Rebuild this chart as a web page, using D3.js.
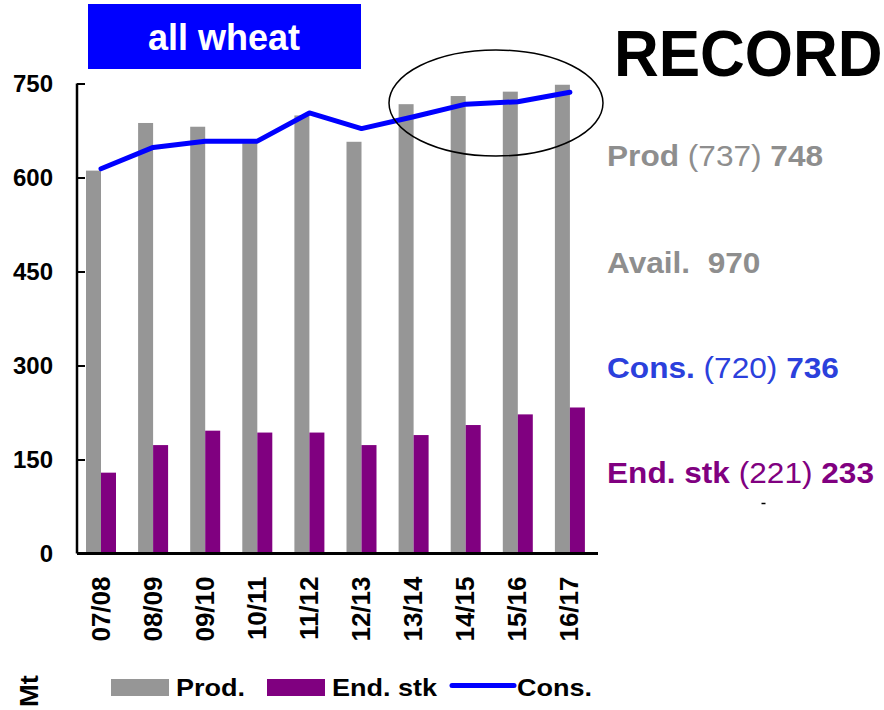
<!DOCTYPE html>
<html><head><meta charset="utf-8">
<script src="https://cdn.jsdelivr.net/npm/d3@7"></script>
<style>
html,body{margin:0;padding:0;background:#fff;}
text{font-family:"Liberation Sans",Arial,sans-serif;}
</style></head>
<body>
<svg id="chart" width="884" height="710"></svg>
<script>
const categories = ["07/08","08/09","09/10","10/11","11/12","12/13","13/14","14/15","15/16","16/17"];
const prodValues = [611, 687, 681, 655, 699, 657, 717, 730, 737, 748];
const endStockValues = [129, 173, 196, 193, 193, 173, 189, 205, 222, 233];
const consValues = [614, 648, 658, 658, 703, 678, 697, 717, 721, 736];
const yTicks = [0, 150, 300, 450, 600, 750];
const legendItems = [
  {label: "Prod.", type: "bar", color: "#969696"},
  {label: "End. stk", type: "bar", color: "#800080"},
  {label: "Cons.", type: "line", color: "#0000ff"}
];
const sideNotes = [
  {parts: [["Prod", 700], [" (737) ", 400], ["748", 700]], color: "#8e8e8e"},
  {parts: [["Avail.  970", 700]], color: "#8e8e8e"},
  {parts: [["Cons.", 700], [" (720) ", 400], ["736", 700]], color: "#2b40dc"},
  {parts: [["End. stk", 700], [" (221) ", 400], ["233", 700]], color: "#800080"}
];

const svg = d3.select("#chart");
const y = d3.scaleLinear().domain([0, 750]).range([553.5, 83.5]);
const x = d3.scaleBand().domain(categories).range([77, 598]).padding(0);
const xSub = d3.scaleBand().domain(["prod", "stk"]).range([9, 39]).padding(0);
const xLine = (d) => x(d) + xSub("stk");

// bars
svg.append("g").selectAll("rect").data(categories).join("rect")
  .attr("x", (d) => x(d) + xSub("prod"))
  .attr("y", (d, i) => y(prodValues[i]))
  .attr("width", xSub.bandwidth())
  .attr("height", (d, i) => y(0) - y(prodValues[i]))
  .attr("fill", "#969696");
svg.append("g").selectAll("rect").data(categories).join("rect")
  .attr("x", (d) => x(d) + xSub("stk"))
  .attr("y", (d, i) => y(endStockValues[i]))
  .attr("width", xSub.bandwidth())
  .attr("height", (d, i) => y(0) - y(endStockValues[i]))
  .attr("fill", "#800080");

// line
const line = d3.line().x((d, i) => xLine(categories[i])).y((d) => y(d));
svg.append("path").datum(consValues).attr("d", line)
  .attr("fill", "none").attr("stroke", "#0000ff").attr("stroke-width", 5)
  .attr("stroke-linejoin", "round").attr("stroke-linecap", "round");

// y axis
const yAxis = d3.axisLeft(y).tickValues(yTicks).tickSize(-8).tickPadding(24);
const gy = svg.append("g").attr("transform", "translate(77,0)").call(yAxis);
gy.select(".domain").attr("stroke", "#000").attr("stroke-width", 2.5).attr("d", `M0,${y(0)}V${y(750)}`);
gy.selectAll(".tick line").attr("stroke", "#000").attr("stroke-width", 2);
gy.selectAll(".tick text").attr("fill", "#000").attr("font-size", 24).attr("font-weight", 700)
  .attr("font-family", "'Liberation Sans',Arial,sans-serif").attr("x", -24).attr("dy", "0.35em");

// x axis baseline
svg.append("line").attr("x1", 77).attr("x2", 598).attr("y1", y(0)).attr("y2", y(0))
  .attr("stroke", "#000").attr("stroke-width", 3);

// x labels (rotated)
svg.append("g").selectAll("text").data(categories).join("text")
  .attr("transform", (d) => `translate(${xLine(d) + 8.5},576.5) rotate(-90) scale(1.04,1)`)
  .attr("text-anchor", "end").attr("font-size", 25).attr("font-weight", 700).attr("fill", "#000")
  .text((d) => d);

// title box
svg.append("rect").attr("x", 88).attr("y", 4).attr("width", 273).attr("height", 65).attr("fill", "#0000ff");
svg.append("text").attr("x", 224).attr("y", 50).attr("text-anchor", "middle")
  .attr("font-size", 36).attr("font-weight", 700).attr("fill", "#fff").text("all wheat");

svg.append("text")
  .attr("font-size", 62).attr("font-weight", 700).attr("fill", "#000")
  .attr("transform", "translate(614,76) scale(1,1.05)")
  .text("RECORD");

// ellipse
svg.append("ellipse").attr("cx", 496).attr("cy", 103).attr("rx", 107).attr("ry", 53)
  .attr("fill", "none").attr("stroke", "#000").attr("stroke-width", 1.5);

// side notes
const noteY = [165.7, 273.3, 378.3, 482.7];
sideNotes.forEach((n, i) => {
  const t = svg.append("text")
    .attr("transform", `translate(607,${noteY[i]}) scale(1.09,1)`)
    .attr("font-size", 29).attr("fill", n.color).style("white-space", "pre");
  n.parts.forEach((p) => t.append("tspan").attr("font-weight", p[1]).text(p[0]));
});
svg.append("line").attr("x1", 761.5).attr("x2", 765.5).attr("y1", 503.5).attr("y2", 503.5)
  .attr("stroke", "#000").attr("stroke-width", 1.5);

// legend
const legendX = [111, 267, 452];
const lg = svg.append("g");
legendItems.forEach((it, i) => {
  if (it.type === "bar") {
    lg.append("rect").attr("x", legendX[i]).attr("y", 679).attr("width", 58).attr("height", 17).attr("fill", it.color);
  } else {
    lg.append("line").attr("x1", legendX[i]).attr("x2", legendX[i] + 62).attr("y1", 685.5).attr("y2", 685.5)
      .attr("stroke", it.color).attr("stroke-width", 5).attr("stroke-linecap", "round");
  }
  lg.append("text").attr("transform", `translate(${legendX[i] + 65},695.5) scale(1.15,1)`)
    .attr("font-size", 23.5).attr("font-weight", 700).attr("fill", "#000").text(it.label);
});

// unit label
svg.append("text").attr("transform", "translate(38,707) rotate(-90) scale(1.05,1)")
  .attr("font-size", 26).attr("font-weight", 700).attr("fill", "#000").text("Mt");
</script>
</body></html>
